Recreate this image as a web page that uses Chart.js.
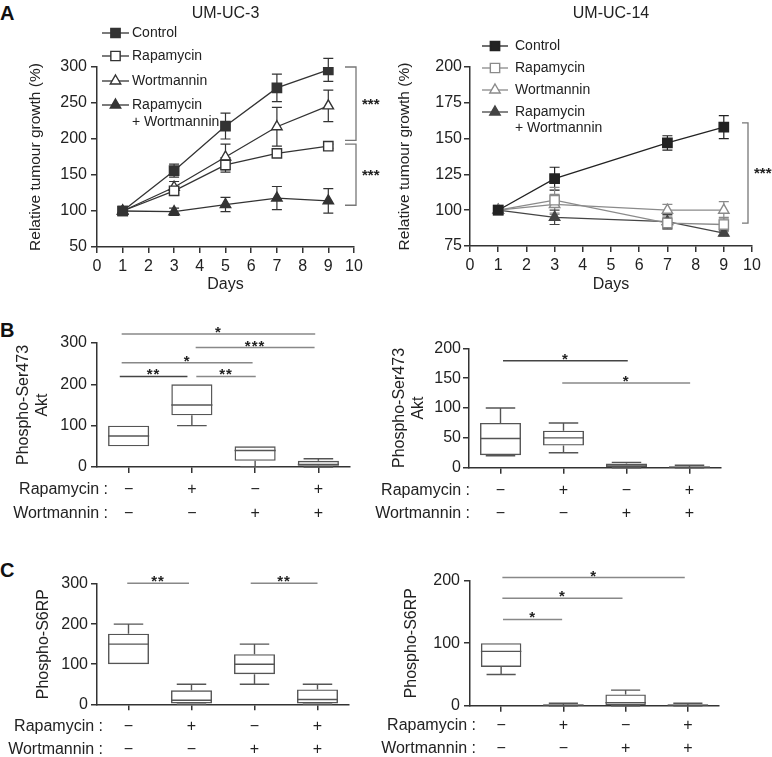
<!DOCTYPE html>
<html><head><meta charset="utf-8">
<script src="https://cdn.jsdelivr.net/npm/chart.js@4.4.0/dist/chart.umd.min.js"></script>
<style>
html,body{margin:0;padding:0;background:#fff;}
body{width:772px;height:757px;position:relative;overflow:hidden;font-family:"Liberation Sans",Arial,sans-serif;}
.panel{position:absolute;}
.panel canvas{display:block;}
.letter{position:absolute;left:0;font:bold 20px/20px "Liberation Sans",Arial,sans-serif;color:#111;}
</style></head><body>
<div class="letter" style="top:3px">A</div>
<div class="letter" style="top:320px">B</div>
<div class="letter" style="top:560px">C</div>
<div class="panel" style="left:0;top:0"><canvas id="a1" width="390" height="300" style="width:390px;height:300px"></canvas></div>
<div class="panel" style="left:390px;top:0"><canvas id="a2" width="382" height="300" style="width:382px;height:300px"></canvas></div>
<div class="panel" style="left:0;top:318px"><canvas id="b1" width="390" height="210" style="width:390px;height:210px"></canvas></div>
<div class="panel" style="left:290px;top:318px"><canvas id="b2" width="482" height="210" style="width:482px;height:210px"></canvas></div>
<div class="panel" style="left:0;top:560px"><canvas id="c1" width="390" height="197" style="width:390px;height:197px"></canvas></div>
<div class="panel" style="left:290px;top:560px"><canvas id="c2" width="482" height="197" style="width:482px;height:197px"></canvas></div>
<script>
// ---------- DATA ----------
const seriesNames = [['Control'], ['Rapamycin'], ['Wortmannin'], ['Rapamycin', '+ Wortmannin']];

const uc3Days = [1, 3, 5, 7, 9];
const uc3Control = [100, 156, 218, 271, 296];
const uc3ControlErr = [0, 9, 18, 19, 16];
const uc3Rapa = [100, 128, 164, 180, 190];
const uc3RapaErr = [0, 6, 10, 5, 3];
const uc3Wort = [100, 133, 175, 217, 246];
const uc3WortErr = [0, 8, 18, 27, 22];
const uc3Combo = [100, 99, 109, 118, 114];
const uc3ComboErr = [0, 5, 10, 16, 17];
const uc3Brackets = [[300, 198, '***'], [193, 108, '***']];

const uc14Days = [1, 3, 7, 9];
const uc14Control = [100, 122, 147, 158];
const uc14ControlErr = [0, 8, 5, 8];
const uc14Rapa = [100, 107, 91, 90];
const uc14RapaErr = [0, 9, 4, 5];
const uc14Wort = [100, 104, 100, 100];
const uc14WortErr = [0, 7, 4, 6];
const uc14Combo = [100, 95, 92, 84];
const uc14ComboErr = [0, 5, 5, 2];
const uc14Brackets = [[161, 91, '***']];

const rapamycinRow = ['−', '+', '−', '+'];
const wortmanninRow = ['−', '−', '+', '+'];
const rowLabels = ['Rapamycin :', 'Wortmannin :'];

// box stats per group: [min, q1, median, q3, max]
const aktUC3 = [[50, 50, 75, 100, 100], [100, 125, 150, 200, 200], [1, 15, 40, 50, 50], [0, 3, 6, 15, 20]];
const aktUC14 = [[20, 21, 49, 75, 100], [25, 37, 50, 62, 75], [0, 1, 3, 7, 9], [0, 0.5, 1, 2, 4]];
const s6UC3 = [[100, 100, 150, 176, 200], [0, 2, 10, 35, 50], [50, 75, 100, 125, 150], [0, 2, 12, 37, 50]];
const s6UC14 = [[50, 62, 87, 100, 100], [0, 0.5, 1, 2, 4], [0, 1, 5, 18, 25], [0, 0.5, 1, 2, 4]];

// significance bars: [from group, to group, height, stars]
const aktUC3Sig = [[-0.14, 0.93, 219, '**'], [1.07, 2.01, 219, '**'], [-0.11, 1.96, 252, '*'], [1.06, 2.94, 289, '***'], [-0.11, 2.95, 322, '*']];
const aktUC14Sig = [[0.04, 2.02, 179, '*'], [0.98, 3.01, 142, '*']];
const s6UC3Sig = [[-0.02, 0.96, 302, '**'], [1.94, 3.0, 302, '**']];
const s6UC14Sig = [[0.02, 2.95, 205, '*'], [0.02, 1.95, 172, '*'], [0.03, 0.98, 138, '*']];

// ---------- RENDERING ----------
const FONT = '"Liberation Sans", Arial, sans-serif';
Chart.defaults.font.family = FONT;
Chart.defaults.color = '#222';
Chart.defaults.animation = false;

const EXTRA = {};

function drawMarker(ctx, style, filled, x, y, r, color) {
  ctx.save();
  ctx.beginPath();
  if (style === 'rect') {
    const s = r * Math.SQRT1_2;
    ctx.rect(x - s, y - s, 2 * s, 2 * s);
  } else {
    ctx.moveTo(x, y - r);
    ctx.lineTo(x + r * 0.866, y + r * 0.5);
    ctx.lineTo(x - r * 0.866, y + r * 0.5);
    ctx.closePath();
  }
  ctx.fillStyle = filled ? color : '#fff';
  ctx.fill();
  ctx.lineWidth = 1.4;
  ctx.strokeStyle = color;
  ctx.stroke();
  ctx.restore();
}

const extrasPlugin = {
  id: 'extras',
  beforeDatasetsDraw(chart) {
    const o = EXTRA[chart.canvas.id];
    if (!o || !o.errCap) return;
    const ctx = chart.ctx, ys = chart.scales.y;
    chart.data.datasets.forEach((ds, i) => {
      if (!ds.errors) return;
      const meta = chart.getDatasetMeta(i);
      ctx.save();
      ctx.strokeStyle = ds.borderColor;
      ctx.lineWidth = 1.2;
      meta.data.forEach((pt, j) => {
        const e = ds.errors[j];
        if (!e) return;
        const v = ds.data[j].y;
        const y1 = ys.getPixelForValue(v + e), y2 = ys.getPixelForValue(v - e);
        const c = o.errCap;
        ctx.beginPath();
        ctx.moveTo(pt.x, y1); ctx.lineTo(pt.x, y2);
        ctx.moveTo(pt.x - c, y1); ctx.lineTo(pt.x + c, y1);
        ctx.moveTo(pt.x - c, y2); ctx.lineTo(pt.x + c, y2);
        ctx.stroke();
      });
      ctx.restore();
    });
  },
  afterDatasetsDraw(chart) {
    const o = EXTRA[chart.canvas.id];
    if (!o || !o.box) return;
    const ctx = chart.ctx, ys = chart.scales.y;
    const ds = chart.data.datasets[0];
    const meta = chart.getDatasetMeta(0);
    ctx.save();
    ctx.strokeStyle = ds.borderColor;
    ctx.lineWidth = 1.4;
    meta.data.forEach((el, j) => {
      const s = ds.stats[j];
      const hw = el.width / 2, cw = el.width * 0.36;
      const py = v => ys.getPixelForValue(v);
      ctx.beginPath();
      ctx.moveTo(el.x - hw, py(s[2])); ctx.lineTo(el.x + hw, py(s[2]));
      if (s[4] > s[3]) {
        ctx.moveTo(el.x, py(s[3])); ctx.lineTo(el.x, py(s[4]));
        ctx.moveTo(el.x - cw, py(s[4])); ctx.lineTo(el.x + cw, py(s[4]));
      }
      if (s[0] < s[1]) {
        ctx.moveTo(el.x, py(s[1])); ctx.lineTo(el.x, py(s[0]));
        ctx.moveTo(el.x - cw, py(s[0])); ctx.lineTo(el.x + cw, py(s[0]));
      }
      ctx.stroke();
    });
    ctx.restore();
  },
  afterDraw(chart) {
    const o = EXTRA[chart.canvas.id];
    if (!o) return;
    const ctx = chart.ctx, xs = chart.scales.x, ys = chart.scales.y, ca = chart.chartArea;
    ctx.save();
    if (o.legend) {
      const L = o.legend;
      chart.data.datasets.forEach((ds, i) => {
        const y = L.ys[i];
        ctx.strokeStyle = ds.borderColor;
        ctx.lineWidth = 1.3;
        ctx.beginPath(); ctx.moveTo(L.x0, y); ctx.lineTo(L.x0 + L.len, y); ctx.stroke();
        drawMarker(ctx, ds.pointStyle, ds.markerFilled, L.x0 + L.len / 2, y, ds.pointRadius, ds.borderColor);
        ctx.fillStyle = '#222';
        ctx.font = '14px ' + FONT;
        ctx.textAlign = 'left'; ctx.textBaseline = 'middle';
        seriesNames[i].forEach((t, k) => ctx.fillText(t, L.tx, y + k * L.dy2));
      });
    }
    if (o.brackets) {
      const B = o.brackets;
      const xv = ca.right + B.dx;
      B.data.forEach(b => {
        const y1 = ys.getPixelForValue(b[0]), y2 = ys.getPixelForValue(b[1]);
        ctx.strokeStyle = '#777'; ctx.lineWidth = 1.3;
        ctx.beginPath();
        ctx.moveTo(xv - B.tick, y1); ctx.lineTo(xv, y1); ctx.lineTo(xv, y2); ctx.lineTo(xv - B.tick, y2);
        ctx.stroke();
        ctx.fillStyle = '#222'; ctx.font = 'bold 15px ' + FONT;
        ctx.textAlign = 'left'; ctx.textBaseline = 'alphabetic';
        ctx.fillText(b[2], xv + B.tx, (y1 + y2) / 2 + 5);
      });
    }
    if (o.sig) {
      o.sig.forEach((s, i) => {
        const x1 = xs.getPixelForValue(s[0]), x2 = xs.getPixelForValue(s[1]);
        const y = ys.getPixelForValue(s[2]);
        ctx.strokeStyle = o.sigColors[i]; ctx.lineWidth = 1.5;
        ctx.beginPath(); ctx.moveTo(x1, y); ctx.lineTo(x2, y); ctx.stroke();
        ctx.fillStyle = '#222'; ctx.font = 'bold 15px ' + FONT;
        ctx.letterSpacing = '1px';
        ctx.textAlign = 'center'; ctx.textBaseline = 'alphabetic';
        ctx.fillText(s[3], (x1 + x2) / 2, y + 3);
        ctx.letterSpacing = '0px';
      });
    }
    if (o.rows) {
      const R = o.rows;
      ctx.fillStyle = '#222'; ctx.font = '16px ' + FONT;
      ctx.textAlign = 'right'; ctx.textBaseline = 'middle';
      rowLabels.forEach((t, k) => {
        ctx.fillText(t, R.x, xs.top + R.tl + R.pad + R.lh * (k + 0.5));
      });
    }
    ctx.restore();
  }
};
Chart.register(extrasPlugin);

const markerStyles = [['rect', true], ['rect', false], ['triangle', false], ['triangle', true]];

function lineChart(id, days, series, errs, colors, yMin, yMax, yStep, title, lay, extra) {
  const datasets = series.map((s, i) => ({
    label: seriesNames[i].join(' '),
    data: days.map((d, j) => ({ x: d, y: s[j] })),
    errors: errs[i],
    borderColor: colors[i],
    backgroundColor: markerStyles[i][1] ? colors[i] : '#fff',
    pointBorderColor: colors[i],
    pointBackgroundColor: markerStyles[i][1] ? colors[i] : '#fff',
    pointStyle: markerStyles[i][0],
    markerFilled: markerStyles[i][1],
    pointRadius: markerStyles[i][0] === 'rect' ? 6.6 : 6,
    pointBorderWidth: 1.4,
    borderWidth: 1.3,
    tension: 0,
  }));
  EXTRA[id] = extra;
  return new Chart(document.getElementById(id), {
    type: 'line',
    data: { datasets },
    options: {
      responsive: false,
      animation: false,
      layout: { padding: { left: 0, right: lay.right, top: 0, bottom: 0 } },
      plugins: {
        legend: { display: false },
        tooltip: { enabled: false },
        title: { display: true, text: title, color: '#222', font: { size: 16, weight: 'normal' }, padding: { top: 3.5, bottom: 44.3 }, fullSize: false },
      },
      scales: {
        x: {
          type: 'linear', min: 0, max: 10,
          ticks: { stepSize: 1, font: { size: 16 }, padding: 4.4, color: '#222', maxRotation: 0, autoSkip: false },
          grid: { drawOnChartArea: false, color: '#333', lineWidth: 1.5, tickLength: 6 },
          border: { color: '#333', width: 1.5 },
          title: { display: true, text: 'Days', color: '#222', font: { size: 16 }, padding: { top: 0, bottom: 5.4 } },
          afterFit(s) { s.height = lay.xh; },
        },
        y: {
          type: 'linear', min: yMin, max: yMax,
          ticks: { stepSize: yStep, font: { size: 16 }, padding: lay.ypad, color: '#222' },
          grid: { drawOnChartArea: false, color: '#333', lineWidth: 1.5, tickLength: 6 },
          border: { color: '#333', width: 1.5 },
          title: { display: true, text: 'Relative tumour growth (%)', color: '#222', font: { size: 15.5 }, padding: { top: lay.tpad, bottom: 0 } },
          afterFit(s) { s.width = lay.yw; },
        },
      },
    },
  });
}

function boxChart(id, stats, yMax, yStep, yTitle, lay, extra) {
  EXTRA[id] = extra;
  return new Chart(document.getElementById(id), {
    type: 'bar',
    data: {
      labels: rapamycinRow.map((r, i) => [r, wortmanninRow[i]]),
      datasets: [{
        data: stats.map(s => [s[1], s[3]]),
        stats: stats,
        backgroundColor: 'rgba(0,0,0,0)',
        borderColor: '#555',
        borderWidth: 1.4,
        borderSkipped: false,
        barPercentage: 0.65,
        categoryPercentage: 1,
      }],
    },
    options: {
      responsive: false,
      animation: false,
      layout: { padding: { left: lay.left, right: lay.right, top: lay.top, bottom: 0 } },
      plugins: { legend: { display: false }, tooltip: { enabled: false }, title: { display: false } },
      scales: {
        x: {
          type: 'category',
          ticks: { font: { size: 16, lineHeight: lay.rowLh }, padding: lay.xpad, color: '#222', maxRotation: 0, autoSkip: false },
          grid: { drawOnChartArea: false, offset: false, color: '#333', lineWidth: 1.5, tickLength: 6 },
          border: { color: '#333', width: 1.5 },
          afterFit(s) { s.height = lay.xh; },
        },
        y: {
          type: 'linear', min: 0, max: yMax,
          ticks: { stepSize: yStep, font: { size: 16 }, padding: lay.ypad, color: '#222' },
          grid: { drawOnChartArea: false, color: '#333', lineWidth: 1.5, tickLength: 6 },
          border: { color: '#333', width: 1.5 },
          title: { display: true, text: yTitle, color: '#222', font: { size: 16, lineHeight: lay.tlh }, padding: { top: lay.tpad, bottom: 0 } },
          afterFit(s) { s.width = lay.yw; },
        },
      },
    },
  });
}

// Panel A
lineChart('a1', uc3Days,
  [uc3Control, uc3Rapa, uc3Wort, uc3Combo],
  [uc3ControlErr, uc3RapaErr, uc3WortErr, uc3ComboErr],
  ['#333', '#333', '#333', '#333'], 50, 300, 50, 'UM-UC-3',
  { right: 36, xh: 53, yw: 97, ypad: 4, tpad: 26.5 },
  { errCap: 5, legend: { x0: 102, len: 27, tx: 132, ys: [33, 56, 81, 105], dy2: 17 }, brackets: { dx: 2, tick: 11, tx: 6, data: uc3Brackets } });

lineChart('a2', uc14Days,
  [uc14Control, uc14Rapa, uc14Wort, uc14Combo],
  [uc14ControlErr, uc14RapaErr, uc14WortErr, uc14ComboErr],
  ['#222', '#8a8a8a', '#8a8a8a', '#444'], 75, 200, 25, 'UM-UC-14',
  { right: 20, xh: 54, yw: 80, ypad: 2, tpad: 5 },
  { errCap: 5, legend: { x0: 92, len: 26, tx: 125, ys: [46, 68, 90, 112], dy2: 16 }, brackets: { dx: -4, tick: 6, tx: 6, data: uc14Brackets } });

// Panel B
boxChart('b1', aktUC3, 300, 100, ['Phospho-Ser473', 'Akt'],
  { left: 0, right: 40, top: 25, xh: 61, yw: 97, ypad: 4, tpad: 13.9, tlh: 1.2, rowLh: 1.45, xpad: 5.4 },
  { box: true, sig: aktUC3Sig, sigColors: ['#444', '#888', '#888', '#888', '#888'], rows: { x: 108, tl: 6, pad: 5.4, lh: 23.2 } });

boxChart('b2', aktUC14, 200, 50, ['Phospho-Ser473', 'Akt'],
  { left: 100, right: 51, top: 30.3, xh: 60.3, yw: 79, ypad: 2, tpad: 0.8, tlh: 1.16, rowLh: 1.45, xpad: 5.4 },
  { box: true, sig: aktUC14Sig, sigColors: ['#444', '#888'], rows: { x: 180, tl: 6, pad: 5.4, lh: 23.2 } });

// Panel C
boxChart('c1', s6UC3, 300, 100, 'Phospho-S6RP',
  { left: 0, right: 41, top: 24, xh: 52.7, yw: 97, ypad: 3, tpad: 33.9, tlh: 1.2, rowLh: 1.456, xpad: 4.8 },
  { box: true, sig: s6UC3Sig, sigColors: ['#888', '#888'], rows: { x: 103, tl: 6, pad: 4.8, lh: 23.3 } });

boxChart('c2', s6UC14, 200, 100, 'Phospho-S6RP',
  { left: 100, right: 53, top: 20.7, xh: 51.3, yw: 80, ypad: 4, tpad: 11.9, tlh: 1.2, rowLh: 1.456, xpad: 2.4 },
  { box: true, sig: s6UC14Sig, sigColors: ['#888', '#888', '#888'], rows: { x: 186, tl: 6, pad: 2.4, lh: 23.3 } });
</script>
</body></html>
